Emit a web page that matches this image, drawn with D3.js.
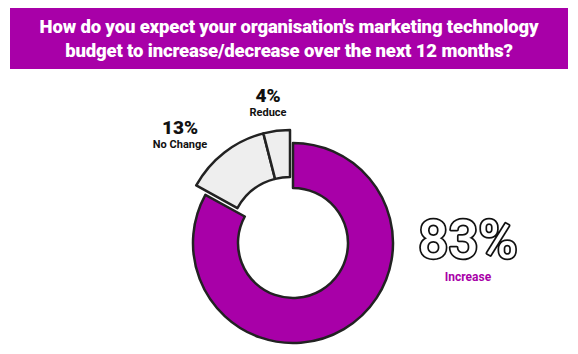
<!DOCTYPE html>
<html>
<head>
<meta charset="utf-8">
<script src="https://cdn.jsdelivr.net/npm/d3@7"></script>
<style>
  body { margin: 0; background: #fff; }
  text { font-family: Roboto, "Noto Sans", sans-serif; }
</style>
</head>
<body>
<div id="chart"></div>
<script>
var titleLines = ["How do you expect your organisation's marketing technology",
                  "budget to increase/decrease over the next 12 months?"];
var categories = ["Increase", "No Change", "Reduce"];
var values = [83, 13, 4];
var colors = ["#a800a8", "#eeeeee", "#eeeeee"];

var width = 578, height = 354;
var cx = 293, cy = 243;

var svg = d3.select("#chart")
    .append("svg")
    .attr("width", width)
    .attr("height", height);

// title bar
svg.append("rect")
    .attr("x", 10).attr("y", 8)
    .attr("width", 558).attr("height", 61)
    .attr("fill", "#a800a8");

svg.selectAll(".title")
    .data(titleLines)
    .enter()
    .append("text")
    .attr("class", "title")
    .attr("x", 289)
    .attr("y", function(d, i) { return 33 + i * 24; })
    .attr("text-anchor", "middle")
    .attr("fill", "#fff")
    .style("font-size", "18.5px")
    .style("font-weight", 900)
    .style("letter-spacing", "-0.15px")
    .text(function(d) { return d; });

var pie = d3.pie().sort(null).value(function(d) { return d; });
var arcs = pie(values);

var arcMain = d3.arc().innerRadius(55).outerRadius(100);
var arcSide = d3.arc().innerRadius(60).outerRadius(107);

var g = svg.append("g")
    .attr("transform", "translate(" + cx + "," + cy + ")");

g.selectAll(".slice")
    .data(arcs)
    .enter()
    .append("path")
    .attr("class", "slice")
    .attr("transform", function(d, i) { return i === 0 ? null : "translate(-3,-6)"; })
    .attr("d", function(d, i) { return i === 0 ? arcMain(d) : arcSide(d); })
    .attr("fill", function(d, i) { return colors[i]; })
    .attr("stroke", "#222")
    .attr("stroke-width", 2.5)
    .attr("stroke-linejoin", "round");

// small labels
var small = [
  {i: 2, x: 268, y: 102},
  {i: 1, x: 180, y: 134}
];

small.forEach(function(s) {
  svg.append("text")
      .attr("x", s.x).attr("y", s.y)
      .attr("text-anchor", "middle")
      .style("font-size", "19px")
      .style("font-weight", 900)
      .attr("fill", "#111")
      .text(values[s.i] + "%");
  svg.append("text")
      .attr("x", s.x).attr("y", s.y + 14)
      .attr("text-anchor", "middle")
      .style("font-size", "11px")
      .style("font-weight", 700)
      .attr("fill", "#111")
      .text(categories[s.i]);
});

// big label
svg.append("text")
    .attr("x", 468).attr("y", 258)
    .attr("text-anchor", "middle")
    .style("font-size", "53px")
    .style("font-weight", 500)
    .attr("fill", "#fff")
    .attr("stroke", "#111")
    .attr("stroke-width", 3.5)
    .attr("stroke-linejoin", "round")
    .attr("paint-order", "stroke")
    .text(values[0] + "%");

svg.append("text")
    .attr("x", 468).attr("y", 281)
    .attr("text-anchor", "middle")
    .style("font-size", "12px")
    .style("font-weight", 700)
    .attr("fill", "#a800a8")
    .text(categories[0]);
</script>
</body>
</html>
